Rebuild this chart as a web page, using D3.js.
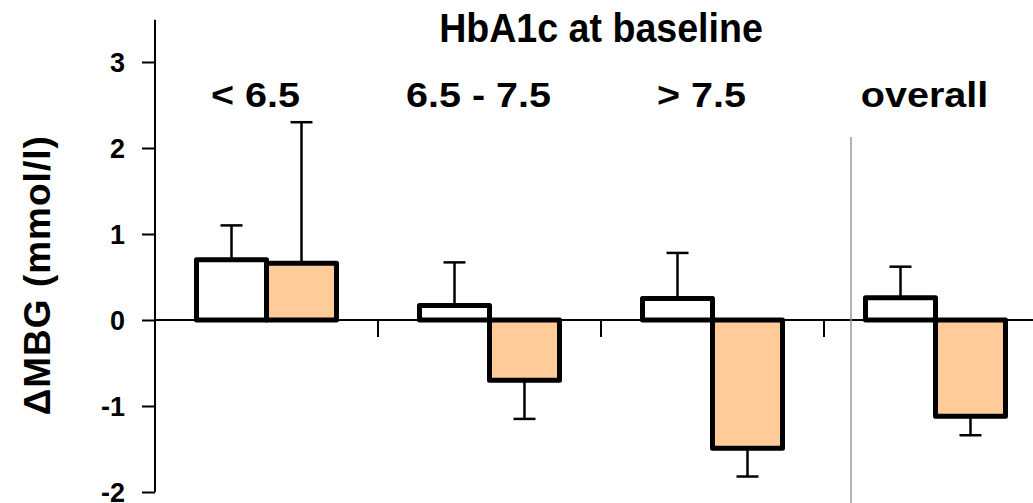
<!DOCTYPE html>
<html>
<head>
<meta charset="utf-8">
<script src="https://cdn.jsdelivr.net/npm/d3@7"></script>
<style>
  body { margin: 0; background: #fff; }
  svg { display: block; font-family: "Liberation Sans", Arial, sans-serif; font-weight: bold; }
</style>
</head>
<body>
<div id="chart"></div>
<script>
// data
const categories = ["< 6.5", "6.5 - 7.5", "> 7.5", "overall"];
const series = ["group A", "group B"];
const meansA = [0.70, 0.17, 0.25, 0.26];
const errA = [0.40, 0.50, 0.53, 0.36];
const meansB = [0.66, -0.70, -1.49, -1.12];
const errB = [1.64, 0.45, 0.33, 0.22];
const yTicks = [-2, -1, 0, 1, 2, 3];
const fills = ["#ffffff", "#ffcc99"];

const width = 1033, height = 503;

const rows = [];
categories.forEach((c, i) => {
    rows.push({cat: c, s: series[0], v: meansA[i], e: errA[i]});
    rows.push({cat: c, s: series[1], v: meansB[i], e: errB[i]});
});

const svg = d3.select("#chart").append("svg")
    .attr("width", width)
    .attr("height", height);

const x0 = d3.scaleBand().domain(categories).range([155, 155 + 4 * 223]).padding(0);
const x1 = d3.scaleBand().domain(series).range([0, x0.bandwidth()]).paddingInner(0).paddingOuter(0.593);
const y = d3.scaleLinear().domain([-2, 3]).range([492, 62]);

// y axis: ticks from d3, labels drawn separately so the font sticks
const yAxis = svg.append("g")
    .attr("transform", "translate(155,0)")
    .call(d3.axisLeft(y).tickValues(yTicks).tickSize(13).tickFormat(""));
yAxis.select(".domain").remove();
yAxis.selectAll("line").attr("stroke", "#000").attr("stroke-width", 2);

svg.append("g").selectAll("text")
    .data(yTicks)
    .join("text")
    .attr("x", 125)
    .attr("y", d => y(d))
    .attr("dy", "0.36em")
    .attr("text-anchor", "end")
    .attr("font-size", 27)
    .attr("fill", "#000")
    .text(d => String(d));

svg.append("line")
    .attr("x1", 155).attr("x2", 155)
    .attr("y1", y(3.49)).attr("y2", y(-2))
    .attr("stroke", "#000").attr("stroke-width", 2);

svg.append("text")
    .attr("transform", "translate(50," + y(0.52) + ") rotate(-90)")
    .attr("text-anchor", "middle")
    .style("font-size", "37px")
    .style("letter-spacing", "1px")
    .text("\u0394MBG (mmol/l)");

// x axis along zero
svg.append("line")
    .attr("x1", 155).attr("x2", width)
    .attr("y1", y(0)).attr("y2", y(0))
    .attr("stroke", "#000").attr("stroke-width", 2);

svg.append("g").selectAll("line")
    .data(categories)
    .join("line")
    .attr("x1", d => x0(d)).attr("x2", d => x0(d))
    .attr("y1", y(0)).attr("y2", y(0) + 17)
    .attr("stroke", "#000").attr("stroke-width", 2);

// separator before "overall"
svg.append("line")
    .attr("x1", x0("overall") + 27).attr("x2", x0("overall") + 27)
    .attr("y1", 137).attr("y2", height)
    .attr("stroke", "#999").attr("stroke-width", 1.5);

// bars
const g = svg.append("g").selectAll("g")
    .data(rows)
    .join("g")
    .attr("transform", d => "translate(" + (x0(d.cat) + x1(d.s)) + ",0)");

// error bars, one-sided away from zero
const capW = 22;
g.append("line")
    .attr("x1", x1.bandwidth() / 2).attr("x2", x1.bandwidth() / 2)
    .attr("y1", d => y(d.v))
    .attr("y2", d => y(d.v + Math.sign(d.v) * d.e))
    .attr("stroke", "#000").attr("stroke-width", 2.5);
g.append("line")
    .attr("x1", x1.bandwidth() / 2 - capW / 2).attr("x2", x1.bandwidth() / 2 + capW / 2)
    .attr("y1", d => y(d.v + Math.sign(d.v) * d.e))
    .attr("y2", d => y(d.v + Math.sign(d.v) * d.e))
    .attr("stroke", "#000").attr("stroke-width", 2.5);

g.append("rect")
    .attr("x", 0)
    .attr("width", x1.bandwidth())
    .attr("y", d => y(Math.max(0, d.v)))
    .attr("height", d => Math.abs(y(d.v) - y(0)))
    .attr("fill", d => fills[series.indexOf(d.s)])
    .attr("stroke", "#000")
    .attr("stroke-width", 5)
    .attr("stroke-linejoin", "round");

// titles
const mid = (x0.range()[0] + x0.range()[1]) / 2;
svg.append("text")
    .attr("transform", "translate(" + mid + ",42) scale(0.94,1)")
    .attr("text-anchor", "middle")
    .style("font-size", "40px")
    .text("HbA1c at baseline");

svg.append("g").selectAll("text")
    .data(categories)
    .join("text")
    .attr("transform", d => "translate(" + (x0(d) + x0.bandwidth() / 2 - 11) + ",107) scale(1.13,1)")
    .attr("text-anchor", "middle")
    .style("font-size", "35px")
    .text(d => d);
</script>
</body>
</html>
